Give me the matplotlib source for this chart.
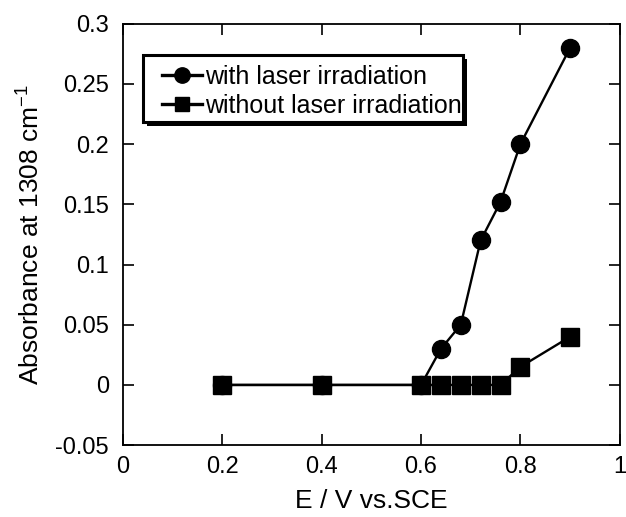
import matplotlib
matplotlib.use("Agg")
import matplotlib.pyplot as plt
from matplotlib.patches import Rectangle

plt.rcParams['font.family'] = ['Liberation Sans', 'DejaVu Sans']
plt.rcParams['mathtext.default'] = 'regular'

potential = [0.2, 0.4, 0.6, 0.64, 0.68, 0.72, 0.76, 0.8, 0.9]
abs_with_laser = [0.0, 0.0, 0.0, 0.03, 0.05, 0.12, 0.152, 0.2, 0.28]
abs_without_laser = [0.0, 0.0, 0.0, 0.0, 0.0, 0.0, 0.0, 0.015, 0.04]

x_ticks = [0, 0.2, 0.4, 0.6, 0.8, 1]
x_tick_labels = ['0', '0.2', '0.4', '0.6', '0.8', '1']
y_ticks = [-0.05, 0, 0.05, 0.1, 0.15, 0.2, 0.25, 0.3]
y_tick_labels = ['-0.05', '0', '0.05', '0.1', '0.15', '0.2', '0.25', '0.3']

fig = plt.figure(figsize=(6.26, 5.17), dpi=100)
ax = fig.add_axes([0.1965, 0.139, 0.7935, 0.815])

ax.plot(potential, abs_with_laser, color='black', lw=1.7, marker='o',
        markersize=13, label='with laser irradiation', zorder=3)
ax.plot(potential, abs_without_laser, color='black', lw=1.7, marker='s',
        markersize=12.5, label='without laser irradiation', zorder=4)

ax.set_xlim(0, 1)
ax.set_ylim(-0.05, 0.3)
ax.set_xticks(x_ticks)
ax.set_xticklabels(x_tick_labels)
ax.set_yticks(y_ticks)
ax.set_yticklabels(y_tick_labels)
ax.tick_params(direction='in', length=8, width=1.2, labelsize=17,
               top=True, right=True)
ax.tick_params(axis='y', pad=10)
ax.tick_params(axis='x', pad=8)
for s in ax.spines.values():
    s.set_linewidth(1.3)

ax.set_xlabel('E / V vs.SCE', fontsize=19, labelpad=8)
ax.set_ylabel('Absorbance at 1308 cm$^{-1}$', fontsize=19, labelpad=8)

# legend box with a solid drop shadow
box_x0, box_y0, box_w, box_h = 0.040, 0.767, 0.644, 0.159
ax.add_patch(Rectangle((box_x0 + 0.008, box_y0 - 0.0095), box_w, box_h,
                       transform=ax.transAxes, facecolor='black',
                       edgecolor='none', zorder=5))
ax.add_patch(Rectangle((box_x0, box_y0), box_w, box_h,
                       transform=ax.transAxes, facecolor='white',
                       edgecolor='black', lw=2.2, zorder=6))

leg = ax.legend(loc='upper left', bbox_to_anchor=(0.078, 0.903), fontsize=18,
                frameon=False, handlelength=1.6, handletextpad=0.15,
                borderpad=0, labelspacing=0.2, borderaxespad=0,
                markerscale=0.85)
leg.set_zorder(7)
for line in leg.get_lines():
    line.set_linewidth(2.4)

fig.savefig('out.png', dpi=100)
